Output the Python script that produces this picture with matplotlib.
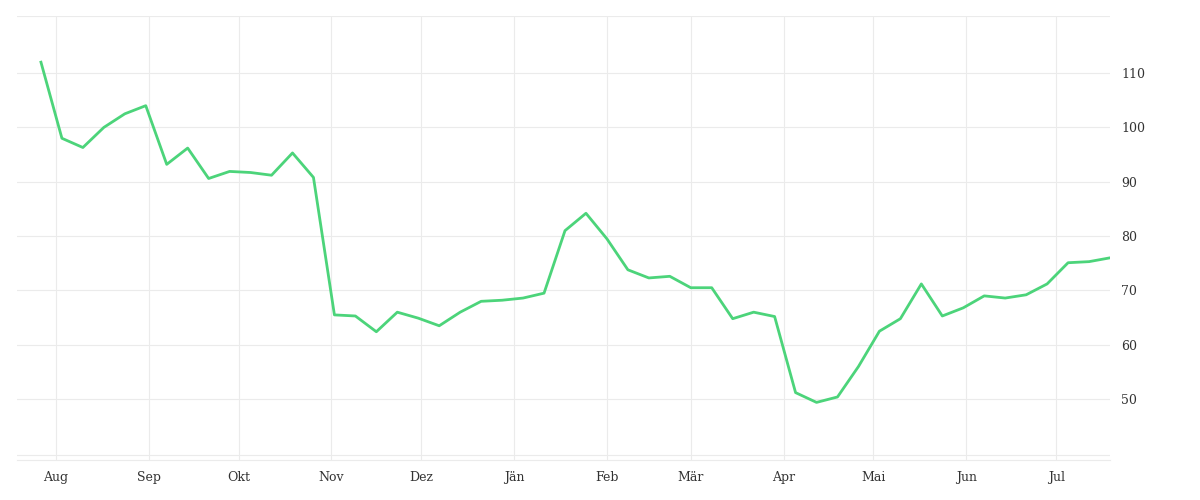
import matplotlib
matplotlib.use("Agg")
import matplotlib.pyplot as plt
import datetime as dt

start = dt.date(2022, 7, 27)
dates = [start + dt.timedelta(days=7 * i) for i in range(52)]
values = [112, 98, 96.3, 100, 102.5, 104, 93.2, 96.2, 90.6, 91.9, 91.7, 91.2, 95.3, 90.8,
          65.5, 65.3, 62.4, 66, 64.9, 63.5, 66, 68, 68.2, 68.6, 69.5, 81, 84.2, 79.5,
          73.8, 72.3, 72.6, 70.5, 70.5, 64.8, 66, 65.2, 51.2, 49.4, 50.4, 56, 62.5, 64.8,
          71.2, 65.3, 66.8, 69, 68.6, 69.2, 71.2, 75.1, 75.3, 76]
month_labels = ["Aug", "Sep", "Okt", "Nov", "Dez", "Jän", "Feb", "Mär", "Apr", "Mai", "Jun", "Jul"]
month_ticks = [dt.date(2022 + (7 + i) // 12, (7 + i) % 12 + 1, 1) for i in range(12)]
yticks = [50, 60, 70, 80, 90, 100, 110]

fig = plt.figure(figsize=(12, 5), dpi=100)
ax = fig.add_axes([17 / 1200, 1 - 460 / 500, (1110 - 17) / 1200, (460 - 16) / 500])
ax.plot(dates, values, color="#4cd47a", lw=2.0)
ax.set_xlim(dt.date(2022, 7, 19), dates[-1])
ax.set_ylim(38.8, 120.5)
ax.set_xticks(month_ticks)
ax.set_xticklabels(month_labels, family="DejaVu Serif", fontsize=9, color="#333")
ax.set_yticks(yticks)
ax.set_yticklabels([str(v) for v in yticks], family="DejaVu Serif", fontsize=9, color="#333")
ax.yaxis.tick_right()
ax.tick_params(length=0, pad=8)
ax.grid(True, color="#ebebeb", lw=0.8)
for y in [120.5, 39.8]:
    ax.axhline(y, color="#ebebeb", lw=0.8)
for s in ax.spines.values():
    s.set_visible(False)
ax.spines["bottom"].set_visible(True)
ax.spines["bottom"].set_color("#ebebeb")
fig.savefig("out.png")
